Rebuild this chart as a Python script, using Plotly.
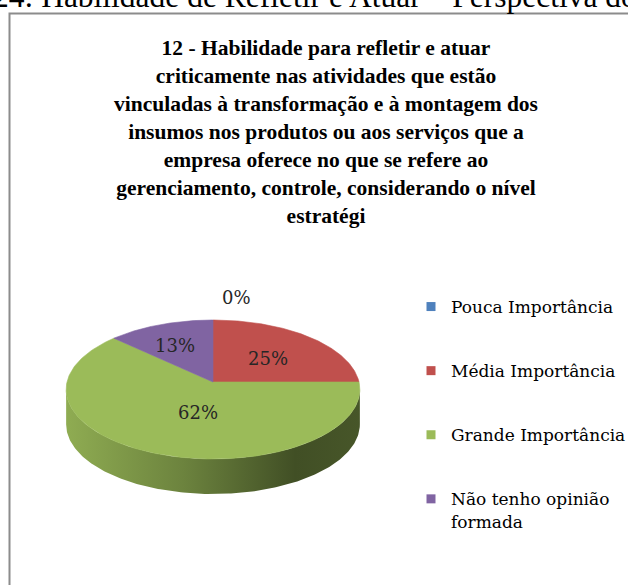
import numpy as np
import plotly.graph_objects as go

# ---------------- data ----------------
categories = ["Pouca Importância", "Média Importância", "Grande Importância", "Não tenho opinião formada"]
legend_names = ["Pouca Importância", "Média Importância", "Grande Importância", "Não tenho opinião<br>formada"]
values = [0, 25, 62, 13]
slice_colors = ["#4F81BD", "#C0504D", "#9BBB59", "#8064A2"]
title_lines = [
    "12 - Habilidade para refletir e atuar",
    "criticamente nas atividades que estão",
    "vinculadas à transformação e à montagem dos",
    "insumos nos produtos ou aos serviços que a",
    "empresa oferece no que se refere ao",
    "gerenciamento, controle, considerando o nível",
    "estratégi",
]
caption_text = "24: Habilidade de Refletir e Atuar – Perspectiva dos Gestores"

# ---------------- geometry / style ----------------
W, H = 628, 585
cx, cy = 213, 382          # pie apex on screen
a = 146                     # horizontal radius
b_far, b_near = 62, 77      # perspective vertical radii
k = (b_near - b_far) / (b_near + b_far)
B = b_far * (1 + k)
depth = 35
label_r = [1.45, 0.5, 0.5, 0.6]
label_dx = [23, 5, 13, -5]
label_dy = [2, 0, -3, -1]

def proj(phi, r=1.0):
    u = r * np.sin(phi)
    v = -r * np.cos(phi)
    s = 1.0 / (1.0 - k * v)
    return cx + a * u * s, cy + B * v * s

def shade(hexcol, f):
    h = hexcol.lstrip("#")
    rgb = [int(h[i:i + 2], 16) for i in (0, 2, 4)]
    return "rgb({},{},{})".format(*[min(255, int(round(c * f))) for c in rgb])

total = float(sum(values))
bounds = np.concatenate([[0.0], np.cumsum(values) / total * 2 * np.pi])

fig = go.Figure()

# side (visible near half)
phi_s = np.arccos(-k)
phi_e = 2 * np.pi - phi_s
for i, col in enumerate(slice_colors):
    s0, s1 = max(bounds[i], phi_s), min(bounds[i + 1], phi_e)
    if values[i] <= 0 or s1 <= s0:
        continue
    ph = np.linspace(s0, s1, 200)
    xt, yt = proj(ph)
    xs = np.concatenate([xt, xt[::-1], xt[:1]])
    ys = np.concatenate([yt, (yt + depth)[::-1], yt[:1]])
    fig.add_trace(go.Scatter(
        x=xs, y=ys, mode="lines", fill="toself", line=dict(width=0),
        fillgradient=dict(type="horizontal", colorscale=[
            [0.0, shade(col, 0.92)], [0.4, shade(col, 0.70)],
            [0.78, shade(col, 0.42)], [1.0, shade(col, 0.46)]]),
        showlegend=False, hoverinfo="skip"))

# top faces
for i, col in enumerate(slice_colors):
    if values[i] <= 0:
        continue
    ph = np.linspace(bounds[i], bounds[i + 1], 200)
    xa, ya = proj(ph)
    xs = np.concatenate([[cx], xa, [cx]])
    ys = np.concatenate([[cy], ya, [cy]])
    fig.add_trace(go.Scatter(
        x=xs, y=ys, mode="lines", fill="toself", fillcolor=col,
        line=dict(width=0.6, color=col),
        showlegend=False, hoverinfo="skip", name=categories[i]))

# legend entries
for i, col in enumerate(slice_colors):
    fig.add_trace(go.Scatter(
        x=[None], y=[None], mode="markers", name=legend_names[i],
        legendgroup=str(i),
        marker=dict(symbol="square", size=9, color=col)))

# data labels
annotations = []
for i, v in enumerate(values):
    mid = (bounds[i] + bounds[i + 1]) / 2
    lx, ly = proj(mid, label_r[i])
    annotations.append(dict(
        x=lx + label_dx[i], y=ly + label_dy[i], xref="x", yref="y", text=f"{v}%",
        showarrow=False, font=dict(family="DejaVu Serif", size=18, color="#262626")))

# clipped caption from page above
annotations.append(dict(
    x=-9 / W, y=1 - 16 / H, xref="paper", yref="paper", xanchor="left", yanchor="bottom",
    text=caption_text, showarrow=False,
    font=dict(family="Liberation Serif", size=31.5, color="#000000")))

fig.update_layout(
    width=W, height=H,
    margin=dict(l=0, r=0, t=0, b=0, autoexpand=False),
    paper_bgcolor="white", plot_bgcolor="white",
    xaxis=dict(range=[0, W], visible=False, fixedrange=True),
    yaxis=dict(range=[H, 0], visible=False, fixedrange=True),
    title=dict(text="<br>".join(title_lines), x=326 / W, xanchor="center",
               y=1 - 55 / H, yanchor="top", yref="container",
               font=dict(family="Liberation Serif", size=21.5, color="#000000", weight="bold")),
    legend=dict(x=411 / W, y=1 - 289 / H, xanchor="left", yanchor="top",
                xref="container", yref="container",
                font=dict(family="DejaVu Serif", size=17, color="#000000"),
                tracegroupgap=39, valign="top", bgcolor="rgba(0,0,0,0)"),
    annotations=annotations,
    shapes=[dict(type="rect", xref="paper", yref="paper",
                 x0=9.5 / W, x1=1 + 20 / W, y0=-20 / H, y1=1 - 13.5 / H,
                 line=dict(color="#8C8C8C", width=2), fillcolor="rgba(0,0,0,0)", layer="below")],
    showlegend=True,
)

fig.write_html("out.html", config={"displayModeBar": False},
               post_script="document.body.style.margin='0';document.body.style.overflow='hidden';")
